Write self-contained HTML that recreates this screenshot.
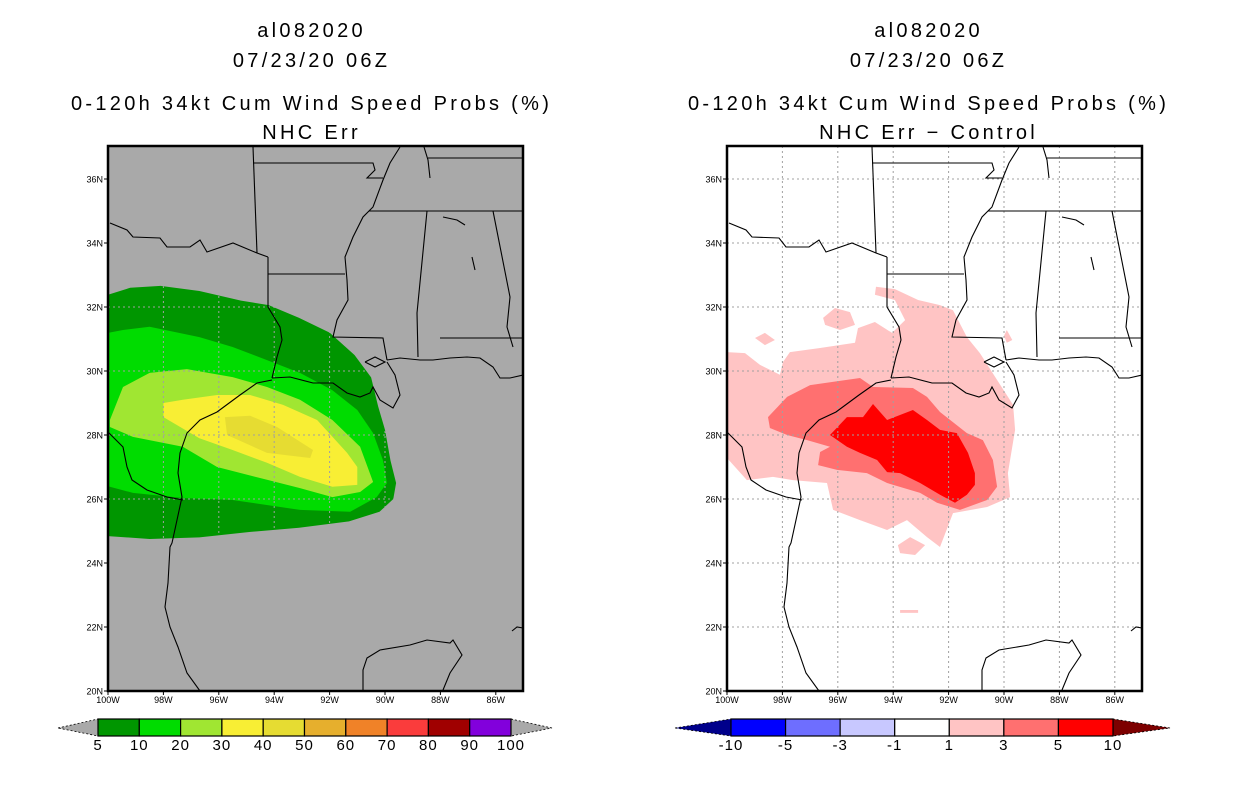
<!DOCTYPE html>
<html><head><meta charset="utf-8"><style>
html,body{margin:0;padding:0;background:#fff;width:1236px;height:800px;overflow:hidden}
svg{display:block}
text{font-family:"Liberation Sans",sans-serif;fill:#000}
.ttl{letter-spacing:3.3px}
</style></head><body>
<svg id="root" width="1236" height="800" viewBox="0 0 1236 800"></svg>
<script>
// ---- data ----
const lonTicks=[100,98,96,94,92,90,88,86];
const latTicks=[20,22,24,26,28,30,32,34,36];
const probLevels=["5","10","20","30","40","50","60","70","80","90","100"];
const probColors=["#009600","#00dc00","#a0e632","#f8ee34","#e6dc32","#e6af2d","#f08228","#fa3c3c","#a00000","#8200dc"];
const diffLevels=["-10","-5","-3","-1","1","3","5","10"];
const diffColors=["#0000ff","#6e6eff","#c8c8ff","#ffffff","#ffc4c4","#ff7070","#ff0000"];
// contours (lon W, lat N)
const prob5=[[100,32.38],[99.2,32.6],[98.1,32.66],[96.7,32.5],[95.2,32.2],[94.2,32.06],[93.1,31.66],[92,31.2],[91.1,30.5],[90.5,29.8],[90.25,28.9],[90,28.16],[89.8,27.2],[89.6,26.5],[89.7,26],[90.2,25.6],[91.3,25.3],[93.1,25.1],[94.9,24.97],[96.7,24.8],[98.5,24.75],[100,24.84]];
const prob10=[[100,31.19],[99.46,31.28],[98.5,31.38],[96.7,31.06],[95.5,30.75],[94.26,30.34],[93.07,29.94],[91.9,29.4],[91,28.78],[90.43,28.06],[90.07,27.2],[89.93,26.5],[90.3,26.06],[91.26,25.6],[93.07,25.66],[95.5,25.97],[97.3,26.03],[99.1,26.19],[100,26.4]];
const prob20=[[99.93,28.47],[99.46,29.5],[98.5,29.94],[97.15,30.06],[95.5,29.81],[94.26,29.5],[93.07,29.1],[91.9,28.47],[90.9,27.63],[90.43,26.53],[90.9,26.22],[91.9,26.06],[93.07,26.34],[94.26,26.6],[96.06,27],[97.3,27.63],[99.1,27.94],[99.93,28.25]];
const prob30=[[98,29],[97.3,29.1],[96.06,29.25],[94.87,29.25],[93.68,28.94],[92.45,28.47],[91.37,27.44],[91,27],[91,26.44],[91.9,26.38],[93.07,26.69],[94.26,27.13],[95.5,27.53],[96.7,27.9],[98,28.56]];
const prob40=[[95.78,28.56],[94.87,28.6],[93.9,28.25],[92.6,27.53],[92.7,27.28],[94.26,27.44],[95.7,28]];
const diff1=[[100,30.59],[99.35,30.56],[98.81,30.19],[98.09,29.88],[97.98,30.28],[97.73,30.59],[96.64,30.72],[95.38,30.88],[95.27,31.34],[94.66,31.53],[94.04,31.19],[93.57,31.59],[93.94,32.22],[94.66,32.38],[94.62,32.63],[93.94,32.56],[93.1,32.22],[92.31,32.06],[91.84,31.9],[91.34,31.06],[90.87,30.56],[90.25,29.72],[89.67,28.94],[89.6,28.16],[89.86,26.81],[89.78,26.06],[90.61,25.75],[91.84,25.56],[92.31,24.5],[92.78,24.81],[93.5,25.34],[94.22,25.03],[95.2,25.34],[96.17,25.66],[96.39,26.5],[97.62,26.59],[98.34,26.69],[99.28,26.59],[100,27.28]];
const diff1b=[[96.53,31.66],[96.1,31.97],[95.56,31.84],[95.38,31.44],[95.92,31.28],[96.46,31.44]];
const diff1c=[[98.99,31.03],[98.63,31.19],[98.27,30.97],[98.63,30.81]];
const diff1d=[[93.83,24.56],[93.39,24.81],[92.85,24.56],[93.21,24.25],[93.75,24.31]];
const diff1e=[[93.75,22.53],[93.1,22.53],[93.1,22.44],[93.75,22.44]];
const diff1f=[[89.9,31.28],[89.7,30.97],[89.9,30.88],[90,31.1]];
const diff3=[[98.52,28.56],[97.83,29.19],[97,29.56],[95.2,29.78],[94.73,29.5],[93.29,29.47],[92.78,29.19],[92.31,28.72],[91.34,28.06],[90.76,27.84],[90.4,27.22],[90.25,26.38],[90.61,25.97],[91.59,25.66],[92.42,25.88],[93.03,26.19],[94.22,26.5],[94.95,26.81],[96.03,26.91],[96.71,27.06],[96.64,27.47],[96.28,27.63],[97.11,27.84],[97.83,28],[98.45,28.22]];
const diff5=[[96.28,28],[95.67,28.56],[95.09,28.56],[94.73,28.97],[94.22,28.47],[93.29,28.78],[92.78,28.47],[92.31,28.16],[91.7,28.06],[91.3,27.44],[91.05,26.81],[91.05,26.44],[91.34,26.13],[91.77,25.88],[92.31,26.13],[93.03,26.5],[93.75,26.81],[94.22,26.84],[94.58,27.22],[95.2,27.44],[95.67,27.63]];
const geoPx=[
 [[110,223],[127,230],[133,237],[160,238],[167,247],[190,247],[200,240],[207,252],[233,243],[257,253],[268,257]],
 [[253,147],[257,253]],
 [[253,163],[373,163],[375,170],[367,178],[383,178]],
 [[400,147],[390,163],[383,180],[373,207],[363,217],[353,237],[345,257],[347,280],[348,300],[337,320],[333,337],[383,338],[387,360]],
 [[268,257],[268,307],[280,327],[282,340],[277,357],[272,378]],
 [[268,274],[345,274]],
 [[369,211],[523,211]],[[428,158],[523,158]],[[424,147],[428,160],[430,178]],
 [[427,211],[417,313],[418,357]],
 [[493,211],[510,297],[507,327],[513,347]],[[440,338],[523,338]],
 [[387,360],[400,358],[420,360],[433,360],[450,358],[467,357],[480,358],[493,367],[500,378],[510,378],[523,375]],
 [[272,378],[290,377],[313,383],[333,383],[347,393],[360,397],[370,393],[373,387],[380,400],[393,408],[400,395],[395,375],[387,362]],
 [[365,362],[375,357],[385,362],[375,367],[365,362]],
 [[272,380],[257,383],[240,395],[217,412],[200,420],[187,433],[180,453],[178,473],[182,497],[177,520],[172,543],[170,547],[168,583],[165,607],[170,627],[178,647],[187,673],[200,691]],
 [[108,432],[123,447],[127,467],[132,480],[147,490],[167,497],[183,500]],
 [[363,691],[363,670],[367,658],[380,650],[410,645],[427,640],[450,643],[453,640],[462,655],[450,673],[443,690]],
 [[512,631],[517,627],[523,628]],[[472,257],[475,270]],[[443,217],[457,220],[465,225]]
];
// ---- helpers ----
const NS="http://www.w3.org/2000/svg";
const root=document.getElementById('root');
const PXLON=27.7, PXLAT=32;
function mk(tag,attrs,parent){const e=document.createElementNS(NS,tag);for(const k in attrs)e.setAttribute(k,attrs[k]);(parent||root).appendChild(e);return e;}
function txt(x,y,s,size,anchor,parent){const t=mk('text',{x:x,y:y,'font-size':size,'text-anchor':anchor||'middle'},parent);t.textContent=s;return t;}
function makeMap(x0){
  const xs=lon=>x0+(100-lon)*PXLON, ys=lat=>691-(lat-20)*PXLAT;
  return {xs,ys,pts:arr=>arr.map(p=>xs(p[0]).toFixed(1)+','+ys(p[1]).toFixed(1)).join(' ')};
}
function drawMap(x0,bg,panel,fills,gridClip){
  const m=makeMap(x0);
  const g=mk('g',{});
  
  
  const cid='clip'+panel;
  const cp=mk('clipPath',{id:cid},g);
  mk('rect',{x:x0,y:146,width:415,height:545},cp);
  const inner=mk('g',{'clip-path':'url(#'+cid+')'},g);
  mk('rect',{x:x0,y:146,width:415,height:545,fill:bg},inner);
  fills.forEach(f=>{
    const p=mk('polygon',{points:m.pts(f.d),fill:f.c},inner);
    
    
  });
  const gg=mk('g',{stroke:'#a0a0a0','stroke-width':1,'stroke-dasharray':'2,3'},inner);
  if(gridClip){const gc=mk('clipPath',{id:cid+'g'},g);mk('polygon',{points:m.pts(gridClip)},gc);gg.setAttribute('clip-path','url(#'+cid+'g)');}
  
  
  lonTicks.slice(1).forEach(l=>mk('line',{x1:m.xs(l),x2:m.xs(l),y1:146,y2:691},gg));
  latTicks.slice(1).forEach(l=>mk('line',{x1:x0,x2:x0+415,y1:m.ys(l),y2:m.ys(l)},gg));
  const geo=mk('g',{fill:'none',stroke:'#000','stroke-width':1.1},inner);
  
  
  geoPx.forEach(line=>{
    const ll=line.map(p=>[100-(p[0]-108)/PXLON,20+(691-p[1])/PXLAT]);
    mk('polyline',{points:m.pts(ll)},geo);
  });
  mk('rect',{x:x0,y:146,width:415,height:545,fill:'none',stroke:'#000','stroke-width':2.5},g);
  const tk=mk('g',{},g);
  
  
  latTicks.forEach(l=>{mk('line',{x1:x0-4,x2:x0,y1:m.ys(l),y2:m.ys(l),stroke:'#000'},tk);txt(x0-5,m.ys(l)+3.5,l+'N',9,'end',tk);});
  lonTicks.forEach(l=>{mk('line',{x1:m.xs(l),x2:m.xs(l),y1:691,y2:695,stroke:'#000'},tk);txt(m.xs(l),703,l+'W',9,'middle',tk);});
}
function drawTitles(cx,sub,panel){
  const g=mk('g',{class:'ttl'});
  
  
  cx+=1.6;
  txt(cx,37,'al082020',20,'middle',g);
  txt(cx,67,'07/23/20 06Z',20,'middle',g);
  txt(cx,110,'0-120h 34kt Cum Wind Speed Probs (%)',20,'middle',g);
  txt(cx,139,sub,20,'middle',g);
}
function drawBar(x0,x1,tipL,tipR,colors,labels,lc,rc,panel){
  const g=mk('g',{});
  
  
  const w=(x1-x0)/colors.length;
  mk('polygon',{points:`${tipL},728 ${x0},719 ${x0},736`,fill:lc,stroke:'#000','stroke-dasharray':'2,2','stroke-width':0.8},g);
  mk('polygon',{points:`${tipR},728 ${x1},719 ${x1},736`,fill:rc,stroke:'#000','stroke-dasharray':'2,2','stroke-width':0.8},g);
  colors.forEach((c,i)=>{const r=mk('rect',{x:x0+i*w,y:719,width:w,height:17,fill:c,stroke:'#000','stroke-width':1.2},g);
    
    });
  labels.forEach((l,i)=>{const t=txt(x0+i*w,750,l,15,'middle',g);t.setAttribute('letter-spacing','1');});
}
drawTitles(310,'NHC Err','left');
drawTitles(927,'NHC Err \u2212 Control','right');
drawMap(108,'#a9a9a9','left',[
 {d:prob5,c:probColors[0],n:'prob-5-10'},{d:prob10,c:probColors[1],n:'prob-10-20'},
 {d:prob20,c:probColors[2],n:'prob-20-30'},{d:prob30,c:probColors[3],n:'prob-30-40'},
 {d:prob40,c:probColors[4],n:'prob-40-50'}],prob5);
drawMap(727,'#ffffff','right',[
 {d:diff1,c:diffColors[4],n:'diff-1-3'},{d:diff1b,c:diffColors[4],n:'diff-1-3-b'},
 {d:diff1c,c:diffColors[4],n:'diff-1-3-c'},{d:diff1d,c:diffColors[4],n:'diff-1-3-d'},
 {d:diff1e,c:diffColors[4],n:'diff-1-3-e'},{d:diff1f,c:diffColors[4],n:'diff-1-3-f'},
 {d:diff3,c:diffColors[5],n:'diff-3-5'},{d:diff5,c:diffColors[6],n:'diff-5-10'}],null);
drawBar(98,511,58,552,probColors,probLevels,'#a9a9a9','#a9a9a9','left');
drawBar(731,1113,675,1170,diffColors,diffLevels,'#00008b','#7d0000','right');
</script>
</body></html>
